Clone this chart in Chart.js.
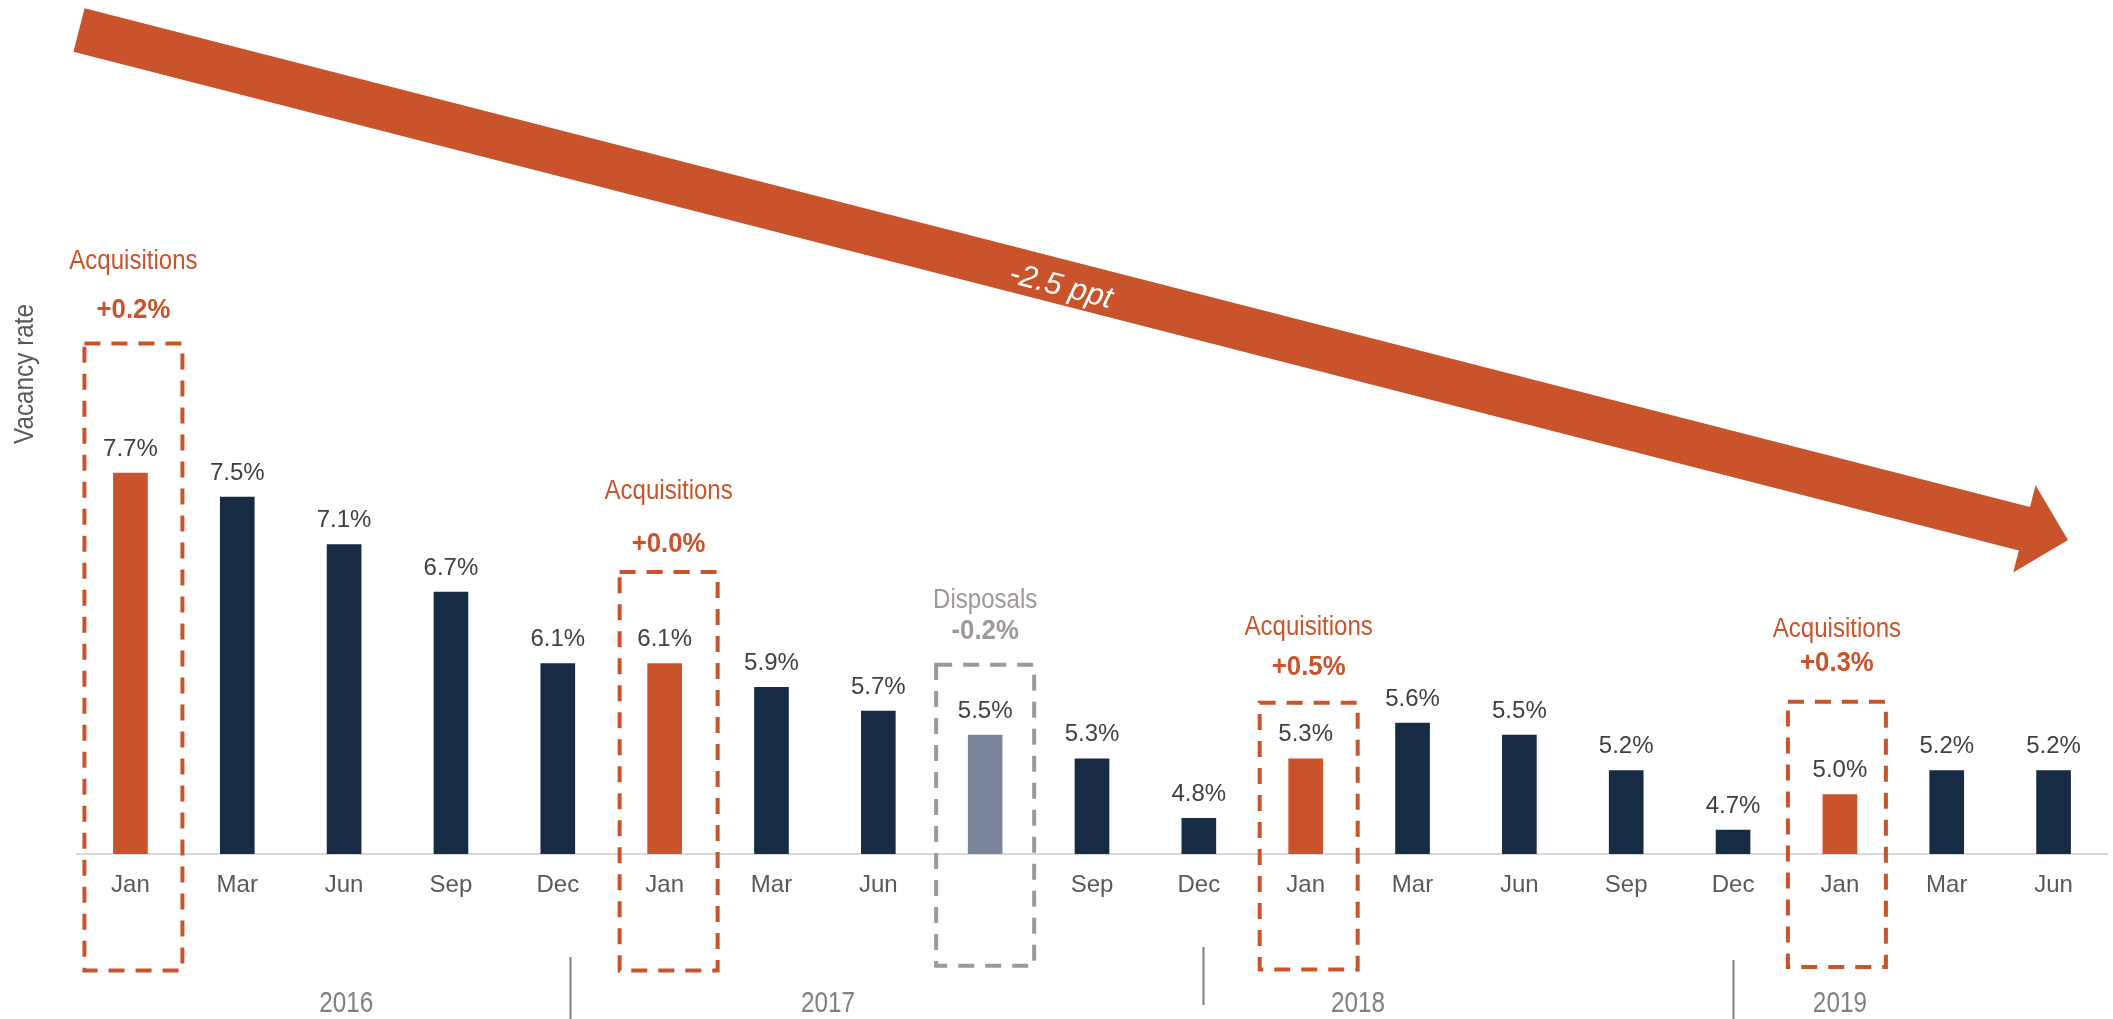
<!DOCTYPE html>
<html>
<head>
<meta charset="utf-8">
<script src="https://cdn.jsdelivr.net/npm/chart.js@4"></script>
<style>
  html, body { margin: 0; padding: 0; background: #fff; }
  canvas { display: block; }
</style>
</head>
<body>
<canvas id="vacancyChart" width="2113" height="1019"></canvas>
<script>
// vacancy rate by reporting month
const months = ['Jan', 'Mar', 'Jun', 'Sep', 'Dec', 'Jan', 'Mar', 'Jun', '', 'Sep', 'Dec', 'Jan', 'Mar', 'Jun', 'Sep', 'Dec', 'Jan', 'Mar', 'Jun'];
const vacancy = [7.7, 7.5, 7.1, 6.7, 6.1, 6.1, 5.9, 5.7, 5.5, 5.3, 4.8, 5.3, 5.6, 5.5, 5.2, 4.7, 5.0, 5.2, 5.2];

// years under the month labels (positions in category units)
const years = ['2016', '2017', '2018', '2019'];
const yearCentre = [2.02, 6.53, 11.49, 16.0];
const yearBreaks = [4.11, 10.04, 15.0];

// portfolio changes
const eventIndex = [0, 5, 8, 11, 16];
const eventType = ['Acquisitions', 'Acquisitions', 'Disposals', 'Acquisitions', 'Acquisitions'];
const eventDelta = [0.2, 0.0, -0.2, 0.5, 0.3];

const ORANGE = '#C9532A';
const NAVY = '#172B45';
const SLATE = '#7B869D';
const GREY = '#9E9896';

// dashed frames: vertical extents in y-scale units, small sideways nudge in px
const frames = [
  { top: 8.79, bottom: 3.52, title: 9.48, delta: 9.07, shift: 3 },
  { top: 6.87, bottom: 3.52, title: 7.55, delta: 7.10, shift: 4 },
  { top: 6.09, bottom: 3.56, title: 6.63, delta: 6.37, shift: 0 },
  { top: 5.77, bottom: 3.53, title: 6.40, delta: 6.07, shift: 3 },
  { top: 5.78, bottom: 3.55, title: 6.39, delta: 6.10, shift: -3 }
];

const barColors = vacancy.map((v, i) => {
  const k = eventIndex.indexOf(i);
  if (k < 0) return NAVY;
  return eventType[k] === 'Disposals' ? SLATE : ORANGE;
});

function fmtDelta(d) {
  return (d < 0 ? '-' : '+') + Math.abs(d).toFixed(1) + '%';
}

// condensed text: regular face squeezed horizontally
function narrowText(ctx, text, x, y, size, weight, color, squeeze) {
  ctx.save();
  ctx.translate(x, y);
  ctx.scale(squeeze, 1);
  ctx.font = weight + ' ' + size + 'px "Liberation Sans", Arial, sans-serif';
  ctx.fillStyle = color;
  ctx.textAlign = 'center';
  ctx.textBaseline = 'middle';
  ctx.fillText(text, 0, 0);
  ctx.restore();
}

const decorations = {
  id: 'decorations',
  afterDatasetsDraw(chart) {
    const ctx = chart.ctx;
    const x = chart.scales.x;
    const y = chart.scales.y;
    const meta = chart.getDatasetMeta(0);

    // value labels
    ctx.save();
    ctx.font = '24px "Liberation Sans", Arial, sans-serif';
    ctx.fillStyle = '#404040';
    ctx.textAlign = 'center';
    ctx.textBaseline = 'middle';
    meta.data.forEach((bar, i) => {
      ctx.fillText(vacancy[i].toFixed(1) + '%', bar.x, bar.y - 24);
    });
    ctx.restore();

    // dashed frames with their captions
    eventIndex.forEach((idx, k) => {
      const f = frames[k];
      const cx = x.getPixelForValue(idx) + f.shift;
      const color = eventType[k] === 'Disposals' ? GREY : ORANGE;
      const top = y.getPixelForValue(f.top);
      const bottom = y.getPixelForValue(f.bottom);
      ctx.save();
      ctx.strokeStyle = color;
      ctx.lineWidth = 4;
      ctx.setLineDash([16, 11]);
      ctx.strokeRect(cx - 49, top, 98, bottom - top);
      ctx.restore();
      narrowText(ctx, eventType[k], cx, y.getPixelForValue(f.title), 27, 'normal', color, 0.89);
      narrowText(ctx, fmtDelta(eventDelta[k]), cx, y.getPixelForValue(f.delta), 28, 'bold', color, 0.92);
    });

    // year labels and separators
    years.forEach((yr, i) => {
      narrowText(ctx, yr, x.getPixelForValue(yearCentre[i]), 1004, 30, 'normal', '#808080', 0.81);
    });
    const sepSpans = [[957, 1019], [947, 1005], [960, 1019]];
    ctx.save();
    ctx.strokeStyle = '#7F7F7F';
    ctx.lineWidth = 2;
    yearBreaks.forEach((b, i) => {
      const px = Math.round(x.getPixelForValue(b)) + 0.5;
      ctx.beginPath();
      ctx.moveTo(px, sepSpans[i][0]);
      ctx.lineTo(px, sepSpans[i][1]);
      ctx.stroke();
    });
    ctx.restore();

    // axis caption
    ctx.save();
    ctx.translate(26, 374);
    ctx.rotate(-Math.PI / 2);
    narrowText(ctx, 'Vacancy rate', 0, 0, 27, 'normal', '#595959', 0.9);
    ctx.restore();

    // overall trend arrow
    const tail = { x: 79, y: 30 };
    const tip = { x: 2068, y: 540 };
    const dx = tip.x - tail.x, dy = tip.y - tail.y;
    const len = Math.hypot(dx, dy);
    const ux = dx / len, uy = dy / len;
    const nx = -uy, ny = ux;
    const shaft = 22.5, head = 45, headLen = 45;
    const bx = tip.x - ux * headLen, by = tip.y - uy * headLen;
    ctx.save();
    ctx.fillStyle = ORANGE;
    ctx.beginPath();
    ctx.moveTo(tail.x - nx * shaft, tail.y - ny * shaft);
    ctx.lineTo(bx - nx * shaft, by - ny * shaft);
    ctx.lineTo(bx - nx * head, by - ny * head);
    ctx.lineTo(tip.x, tip.y);
    ctx.lineTo(bx + nx * head, by + ny * head);
    ctx.lineTo(bx + nx * shaft, by + ny * shaft);
    ctx.lineTo(tail.x + nx * shaft, tail.y + ny * shaft);
    ctx.closePath();
    ctx.fill();

    const mx = 1062;
    const my = tail.y + (mx - tail.x) * uy / ux;
    ctx.translate(mx, my);
    ctx.rotate(Math.atan2(dy, dx));
    ctx.font = 'italic 31px "Liberation Sans", Arial, sans-serif';
    ctx.fillStyle = '#FFFFFF';
    ctx.textAlign = 'center';
    ctx.textBaseline = 'middle';
    const change = vacancy[vacancy.length - 1] - vacancy[0];
    ctx.fillText(change.toFixed(1) + ' ppt', 0, 5);
    ctx.restore();
  }
};

new Chart(document.getElementById('vacancyChart'), {
  type: 'bar',
  data: {
    labels: months,
    datasets: [{
      label: 'Vacancy rate',
      data: vacancy,
      backgroundColor: barColors,
      barThickness: 34
    }]
  },
  options: {
    responsive: false,
    animation: false,
    devicePixelRatio: 1,
    layout: { padding: { left: 77, right: 6, top: 21, bottom: 0 } },
    plugins: {
      legend: { display: false },
      tooltip: { enabled: false }
    },
    scales: {
      x: {
        grid: { display: false, drawTicks: false },
        border: { display: true, color: '#D9D9D9', width: 2 },
        ticks: {
          color: '#595959',
          font: { family: '"Liberation Sans", Arial, sans-serif', size: 24 },
          padding: 17,
          maxRotation: 0,
          autoSkip: false
        },
        afterFit(scale) { scale.height = 165; }
      },
      y: {
        display: false,
        min: 4.5,
        max: 11.5
      }
    }
  },
  plugins: [decorations]
});
</script>
</body>
</html>
